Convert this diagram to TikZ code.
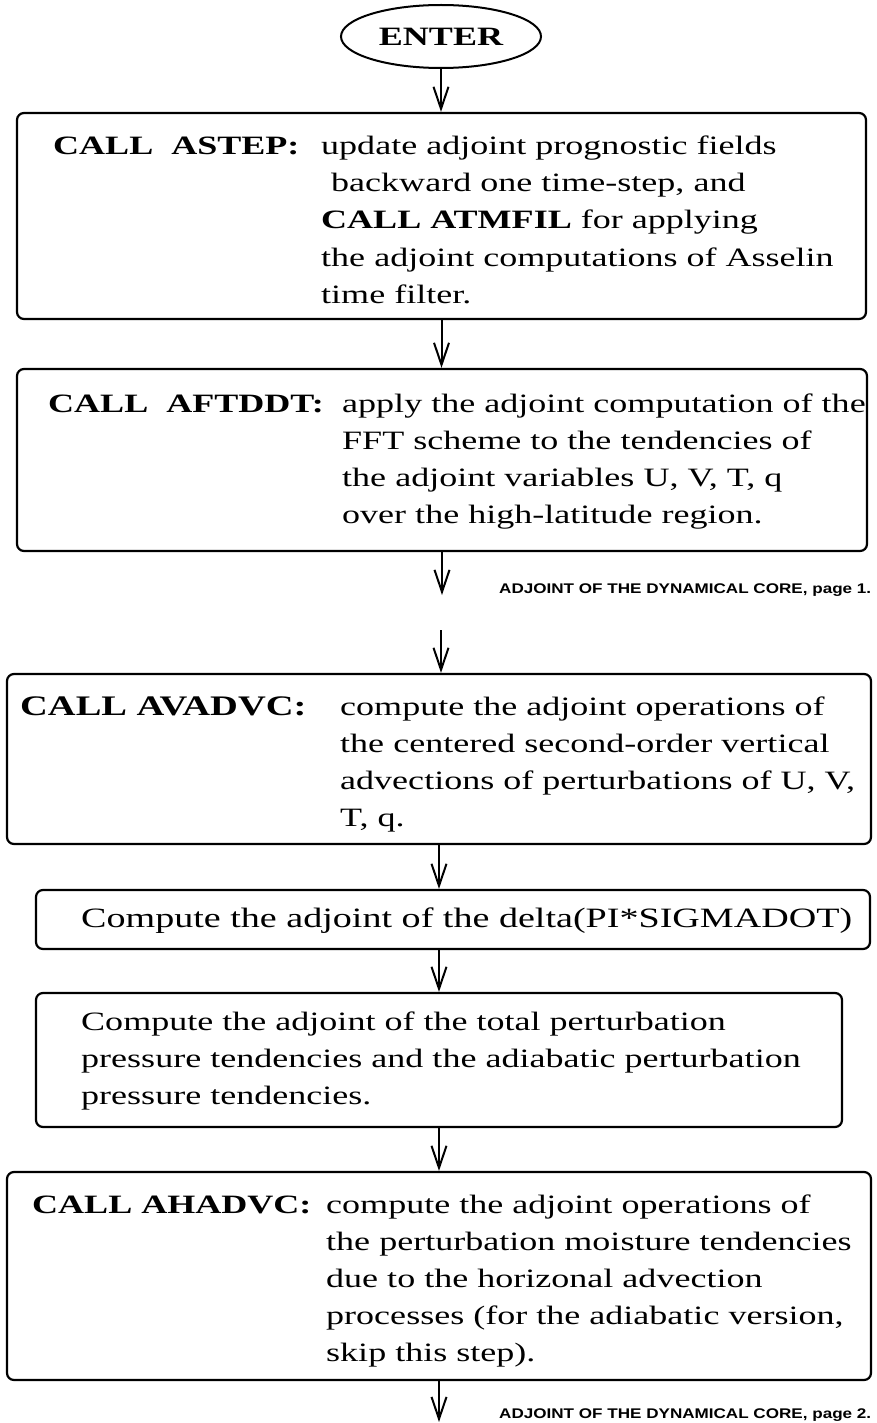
\documentclass[tikz,border=0pt]{standalone}
\usepackage{fontspec}
\setmainfont{Liberation Serif}[FakeStretch=1.36]
\newfontfamily\labelfont{Liberation Sans}[FakeStretch=1.22]
\usetikzlibrary{shapes.geometric,arrows.meta}

\tikzset{
  box/.style={draw, line width=2.2pt, rounded corners=7pt, inner sep=0pt},
  txt/.style={inner sep=0pt, anchor=base west, font=\fontsize{26.5pt}{37pt}\selectfont},
  bigtxt/.style={txt, font=\fontsize{28pt}{37pt}\selectfont},
  callname/.style={txt, font=\fontsize{26.5pt}{37pt}\selectfont\bfseries},
  bigcallname/.style={txt, font=\fontsize{28.3pt}{37pt}\selectfont\bfseries},
  pagelabel/.style={inner sep=0pt, anchor=base west, font=\labelfont\fontsize{14pt}{16pt}\selectfont\bfseries},
  flow/.style={line width=2pt, -{Straight Barb[length=22pt,width=15pt,line width=2pt]}}
}

\begin{document}
\begin{tikzpicture}[x=1pt,y=-1pt]
\useasboundingbox (0,0) rectangle (877,1423);

% start terminal
\node[draw, ellipse, line width=2pt, minimum width=200pt, minimum height=63pt, inner sep=0pt,
      font=\fontsize{26.5pt}{30pt}\selectfont\bfseries] (enter) at (441,36.5) {ENTER};

% process boxes
\node[box, minimum width=849pt, minimum height=206pt] (b1) at (441.5,216) {};
\node[box, minimum width=850pt, minimum height=182pt] (b2) at (442,460) {};
\node[box, minimum width=864pt, minimum height=170pt] (b3) at (439,759) {};
\node[box, minimum width=834pt, minimum height=59pt]  (b4) at (453,919.5) {};
\node[box, minimum width=806pt, minimum height=134pt] (b5) at (439,1060) {};
\node[box, minimum width=864pt, minimum height=208pt] (b6) at (439,1276) {};

% ASTEP
\node[callname] (c1) at (53,155) {CALL\ \ ASTEP:};
\node[txt] (t1a) at (321,155) {update adjoint prognostic fields};
\node[txt] (t1b) at (331,192) {backward one time-step, and};
\node[txt] (t1c) at (321,229) {\textbf{CALL ATMFIL} for applying};
\node[txt] (t1d) at (321,266) {the adjoint computations of Asselin};
\node[txt] (t1e) at (321,303) {time filter.};

% AFTDDT
\node[callname] (c2) at (48,412) {CALL\ \ AFTDDT:};
\node[txt] (t2a) at (342,412) {apply the adjoint computation of the};
\node[txt] (t2b) at (342,449) {FFT scheme to the tendencies of};
\node[txt] (t2c) at (342,486) {the adjoint variables U, V, T, q};
\node[txt] (t2d) at (342,523) {over the high-latitude region.};

% AVADVC
\node[bigcallname] (c3) at (20,715) {CALL AVADVC:};
\node[txt] (t3a) at (340,715) {compute the adjoint operations of};
\node[txt] (t3b) at (340,752) {the centered second-order vertical};
\node[txt] (t3c) at (340,789) {advections of perturbations of U, V,};
\node[txt] (t3d) at (340,826) {T, q.};

% delta(PI*SIGMADOT)
\node[bigtxt] (t4a) at (81,927) {Compute the adjoint of the delta(PI*SIGMADOT)};

% pressure tendencies
\node[txt] (t5a) at (81,1030) {Compute the adjoint of the total perturbation};
\node[txt] (t5b) at (81,1067) {pressure tendencies and the adiabatic perturbation};
\node[txt] (t5c) at (81,1104) {pressure tendencies.};

% AHADVC
\node[callname] (c6) at (32,1213) {CALL AHADVC:};
\node[txt] (t6a) at (326,1213) {compute the adjoint operations of};
\node[txt] (t6b) at (326,1250) {the perturbation moisture tendencies};
\node[txt] (t6c) at (326,1287) {due to the horizonal advection};
\node[txt] (t6d) at (326,1324) {processes (for the adiabatic version,};
\node[txt] (t6e) at (326,1361) {skip this step).};

% page continuation labels
\node[pagelabel] (pg1) at (499,593) {ADJOINT OF THE DYNAMICAL CORE, page 1.};
\node[pagelabel] (pg2) at (499,1418) {ADJOINT OF THE DYNAMICAL CORE, page 2.};

% free ends of the page-break connectors
\coordinate (p1end) at (442,595);
\coordinate (p2start) at (441,630);
\coordinate (pend) at (439,1422);

% connectors
\draw[flow] (enter.south) -- (enter.south |- b1.north);
\draw[flow] (b1.south) -- (b1.south |- b2.north);
\draw[flow] (b2.south) -- (p1end);
\draw[flow] (p2start) -- (p2start |- b3.north);
\draw[flow] (b3.south) -- (b3.south |- b4.north);
\draw[flow] (b3.south |- b4.south) -- (b3.south |- b5.north);
\draw[flow] (b5.south) -- (b5.south |- b6.north);
\draw[flow] (b6.south) -- (pend);
\end{tikzpicture}
\end{document}
